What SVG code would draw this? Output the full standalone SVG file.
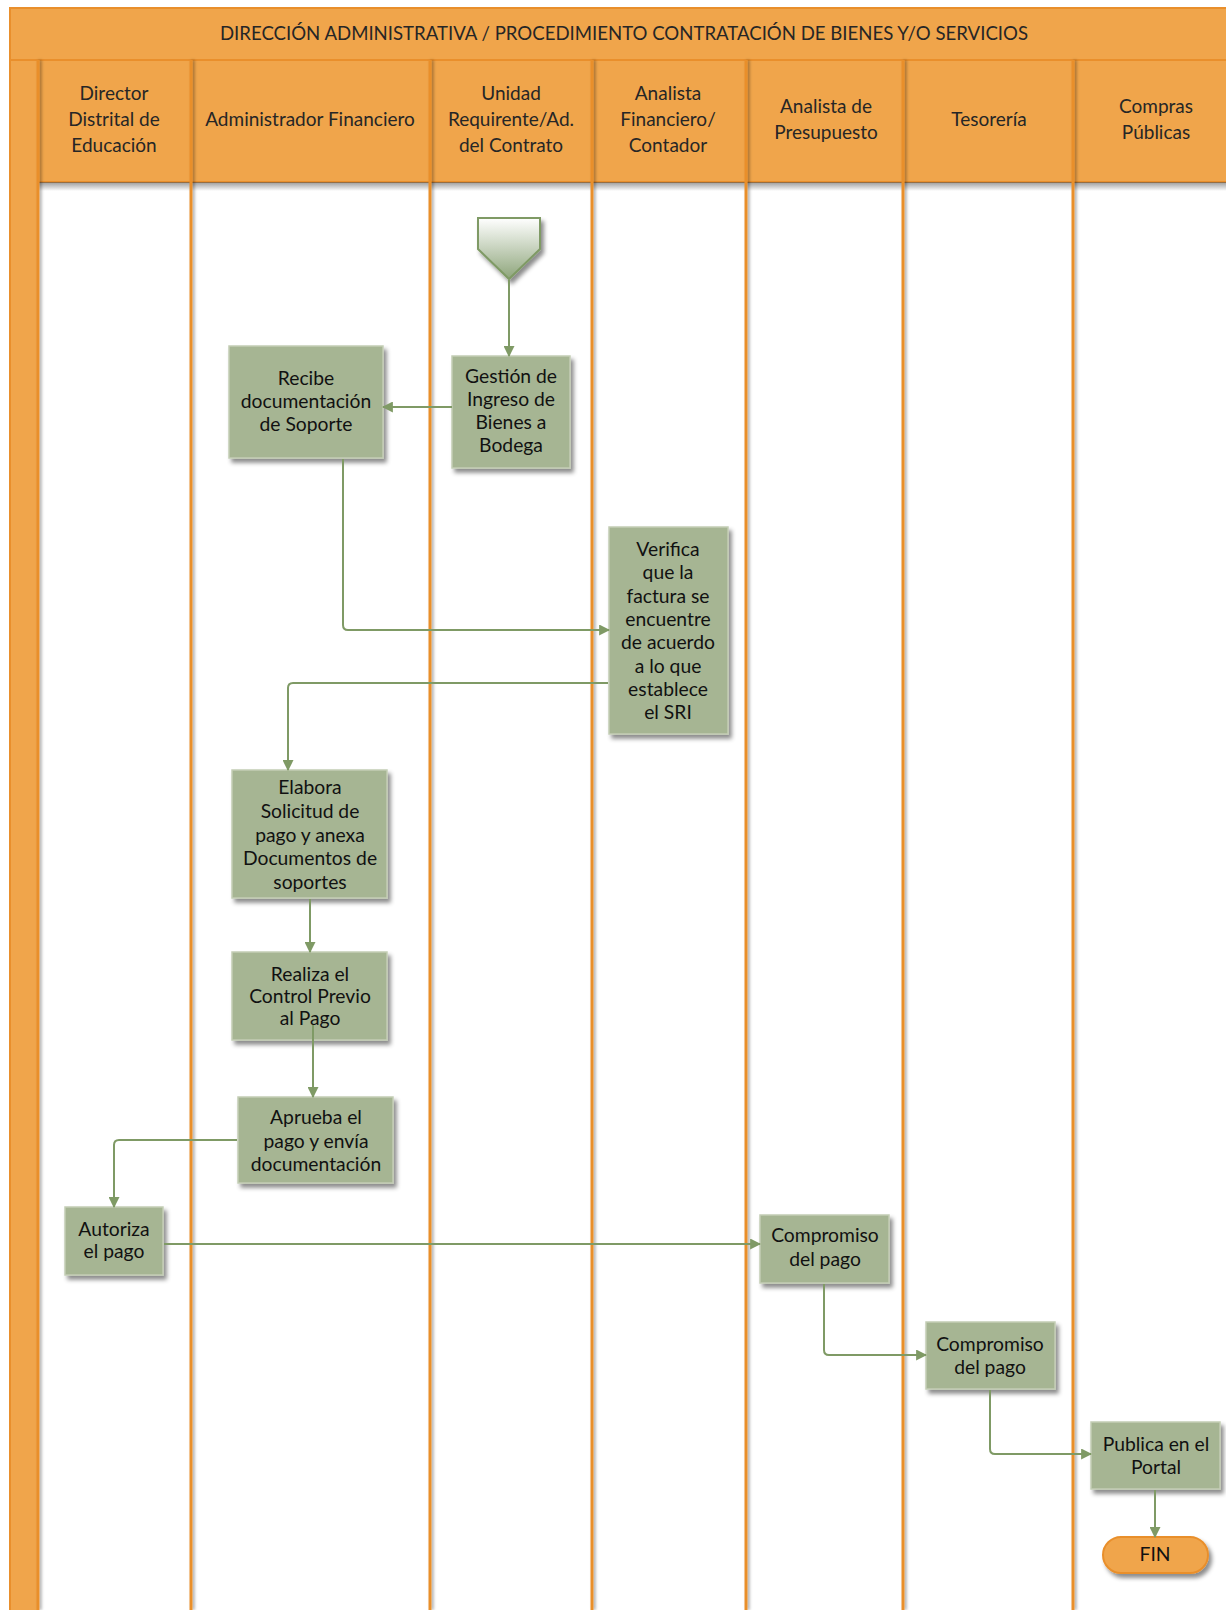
<svg xmlns="http://www.w3.org/2000/svg" width="1226" height="1610" viewBox="0 0 1226 1610">
<style>
.hdr{font-family:Lato,"Open Sans","Liberation Sans",sans-serif;font-size:19px;fill:#262626;text-anchor:middle}
.ttl{font-family:Lato,"Open Sans","Liberation Sans",sans-serif;font-size:18.6px;fill:#262626;text-anchor:middle}
.t{font-family:Lato,"Open Sans","Liberation Sans",sans-serif;font-size:19.3px;fill:#111;text-anchor:middle}
.box{fill:#a6b593;stroke:#c3cdb5;stroke-width:1.5;filter:url(#sh)}
.lane{stroke:#e98f2c;stroke-width:3}
.c{fill:none;stroke:#7f9a65;stroke-width:2;marker-end:url(#ah)}
</style>
<defs>
<filter id="sh" x="-20%" y="-20%" width="150%" height="150%"><feDropShadow dx="3" dy="4" stdDeviation="2" flood-color="#000" flood-opacity="0.45"/></filter>
<filter id="lsh" x="-50%" y="-5%" width="300%" height="110%"><feDropShadow dx="2" dy="0" stdDeviation="1.5" flood-color="#000" flood-opacity="0.35"/></filter>
<linearGradient id="sg" x1="0" y1="0" x2="0" y2="1"><stop offset="0" stop-color="#ffffff"/><stop offset="1" stop-color="#8ea57b"/></linearGradient>
<linearGradient id="hs" x1="0" y1="0" x2="0" y2="1"><stop offset="0" stop-color="#555" stop-opacity="0.6"/><stop offset="1" stop-color="#555" stop-opacity="0"/></linearGradient>
<marker id="ah" viewBox="0 0 10 10" refX="9" refY="5" markerWidth="11" markerHeight="11" markerUnits="userSpaceOnUse" orient="auto"><path d="M0,0 L10,5 L0,10 Z" fill="#7f9a65"/></marker>
</defs>
<rect width="1226" height="1610" fill="#fff"/>
<g id="pool">
<rect x="10" y="8" width="1226" height="52" fill="#f0a54b" stroke="#e98f2c" stroke-width="2"/>
<text class="ttl" x="624" y="40">DIRECCIÓN ADMINISTRATIVA / PROCEDIMIENTO CONTRATACIÓN DE BIENES Y/O SERVICIOS</text>
<rect x="10" y="60" width="28" height="1560" fill="#f0a54b" stroke="#e98f2c" stroke-width="2"/>
<rect x="38" y="60" width="1200" height="122" fill="#f0a54b" stroke="#e98f2c" stroke-width="2"/>
<rect x="38" y="182" width="1200" height="9" fill="url(#hs)"/>
<g filter="url(#lsh)">
<line class="lane" x1="38" y1="60" x2="38" y2="1610"/>
<line class="lane" x1="191" y1="60" x2="191" y2="1610"/>
<line class="lane" x1="430" y1="60" x2="430" y2="1610"/>
<line class="lane" x1="592" y1="60" x2="592" y2="1610"/>
<line class="lane" x1="746" y1="60" x2="746" y2="1610"/>
<line class="lane" x1="903" y1="60" x2="903" y2="1610"/>
<line class="lane" x1="1073" y1="60" x2="1073" y2="1610"/>
</g>
<text class="hdr"><tspan x="114" y="100">Director</tspan><tspan x="114" y="126">Distrital de</tspan><tspan x="114" y="152">Educación</tspan></text>
<text class="hdr" x="310" y="126">Administrador Financiero</text>
<text class="hdr"><tspan x="511" y="100">Unidad</tspan><tspan x="511" y="126">Requirente/Ad.</tspan><tspan x="511" y="152">del Contrato</tspan></text>
<text class="hdr"><tspan x="668" y="100">Analista</tspan><tspan x="668" y="126">Financiero/</tspan><tspan x="668" y="152">Contador</tspan></text>
<text class="hdr"><tspan x="826" y="113">Analista de</tspan><tspan x="826" y="139">Presupuesto</tspan></text>
<text class="hdr" x="989" y="126">Tesorería</text>
<text class="hdr"><tspan x="1156" y="113">Compras</tspan><tspan x="1156" y="139">Públicas</tspan></text>
</g>
<g id="start"><path d="M478,218 H540 V249 L509,279 L478,249 Z" fill="url(#sg)" stroke="#7f9a65" stroke-width="2" filter="url(#sh)"/></g>
<g id="gestion"><rect class="box" x="452" y="356" width="118" height="112"/>
<text class="t"><tspan x="511" y="383">Gestión de</tspan><tspan x="511" y="406">Ingreso de</tspan><tspan x="511" y="429">Bienes a</tspan><tspan x="511" y="452">Bodega</tspan></text></g>
<g id="recibe"><rect class="box" x="229" y="346" width="154" height="112"/>
<text class="t"><tspan x="306" y="385">Recibe</tspan><tspan x="306" y="408">documentación</tspan><tspan x="306" y="431">de Soporte</tspan></text></g>
<g id="verifica"><rect class="box" x="609" y="527" width="119" height="207"/>
<text class="t"><tspan x="668" y="556">Verifica</tspan><tspan x="668" y="579">que la</tspan><tspan x="668" y="603">factura se</tspan><tspan x="668" y="626">encuentre</tspan><tspan x="668" y="649">de acuerdo</tspan><tspan x="668" y="673">a lo que</tspan><tspan x="668" y="696">establece</tspan><tspan x="668" y="719">el SRI</tspan></text></g>
<g id="elabora"><rect class="box" x="232" y="770" width="155" height="128"/>
<text class="t"><tspan x="310" y="794">Elabora</tspan><tspan x="310" y="818">Solicitud de</tspan><tspan x="310" y="842">pago y anexa</tspan><tspan x="310" y="865">Documentos de</tspan><tspan x="310" y="889">soportes</tspan></text></g>
<g id="realiza"><rect class="box" x="232" y="952" width="155" height="88"/>
<text class="t"><tspan x="310" y="981">Realiza el</tspan><tspan x="310" y="1003">Control Previo</tspan><tspan x="310" y="1025">al Pago</tspan></text></g>
<g id="aprueba"><rect class="box" x="238" y="1097" width="155" height="86"/>
<text class="t"><tspan x="316" y="1124">Aprueba el</tspan><tspan x="316" y="1148">pago y envía</tspan><tspan x="316" y="1171">documentación</tspan></text></g>
<g id="autoriza"><rect class="box" x="65" y="1207" width="98" height="68"/>
<text class="t"><tspan x="114" y="1236">Autoriza</tspan><tspan x="114" y="1258">el pago</tspan></text></g>
<g id="compromiso1"><rect class="box" x="760" y="1215" width="129" height="68"/>
<text class="t"><tspan x="825" y="1242">Compromiso</tspan><tspan x="825" y="1266">del pago</tspan></text></g>
<g id="compromiso2"><rect class="box" x="926" y="1322" width="129" height="67"/>
<text class="t"><tspan x="990" y="1351">Compromiso</tspan><tspan x="990" y="1374">del pago</tspan></text></g>
<g id="publica"><rect class="box" x="1091" y="1422" width="129" height="67"/>
<text class="t"><tspan x="1156" y="1451">Publica en el</tspan><tspan x="1156" y="1474">Portal</tspan></text></g>
<g id="fin"><rect x="1103" y="1537" width="105" height="36" rx="18" fill="#f0a54b" stroke="#e98f2c" stroke-width="2" filter="url(#sh)"/>
<text class="t" x="1155" y="1561">FIN</text></g>
<g id="connectors">
<path class="c" d="M509,280 V356"/>
<path class="c" d="M452,407 H383"/>
<path class="c" d="M343,459 V625 Q343,630 348,630 H609"/>
<path class="c" d="M608,683 H293 Q288,683 288,688 V770"/>
<path class="c" d="M310,899 V952"/>
<path class="c" d="M313,1025 V1097"/>
<path class="c" d="M237,1140 H119 Q114,1140 114,1145 V1207"/>
<path class="c" d="M164,1244 H760"/>
<path class="c" d="M824,1284 V1350 Q824,1355 829,1355 H926"/>
<path class="c" d="M990,1390 V1449 Q990,1454 995,1454 H1091"/>
<path class="c" d="M1155,1490 V1537"/>
</g>
</svg>
